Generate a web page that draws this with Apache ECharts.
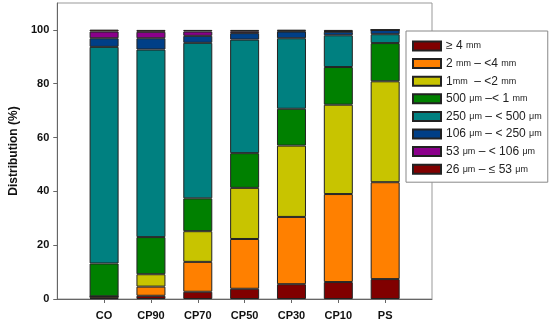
<!DOCTYPE html>
<html><head><meta charset="utf-8">
<script src="https://cdn.jsdelivr.net/npm/echarts@6/dist/echarts.min.js"></script>
<style>html,body{margin:0;padding:0;background:#fff}#c{width:550px;height:325px}</style>
</head><body><div id="c"></div>
<script>
const categories = ['CO','CP90','CP70','CP50','CP30','CP10','PS'];
const seriesNames = ['≥ 4 mm','2 mm – <4 mm','1mm  – <2 mm','500 μm –< 1 mm','250 μm – < 500 μm','106 μm – < 250 μm','53 μm – < 106 μm','26 μm – ≤ 53 μm'];
const colors = ['#800000','#FF8000','#C8C400','#008000','#008080','#003F87','#8B008B','#800000'];
const yTicks = [0,20,40,60,80,100];
const ge4mm   = [0.3, 1.2, 2.7, 3.8, 5.5, 6.3, 7.4];
const mm2_4   = [0.7, 3.4, 11.1, 18.5, 25.0, 32.7, 36.0];
const mm1_2   = [0.0, 4.6, 11.4, 19.0, 26.5, 33.2, 37.5];
const um500_1 = [12.2, 13.8, 12.2, 12.9, 13.7, 14.0, 14.2];
const um250   = [80.5, 69.7, 57.8, 42.2, 26.2, 11.8, 3.3];
const um106   = [3.2, 4.2, 2.6, 2.4, 2.5, 1.3, 1.6];
const um53    = [2.5, 2.4, 1.6, 0.7, 0.3, 0.2, 0.0];
const um26    = [0.7, 0.7, 0.6, 0.5, 0.3, 0.5, 0.0];
const allValues = [ge4mm, mm2_4, mm1_2, um500_1, um250, um106, um53, um26];

const padCats = [' '].concat(categories, ['  ']);
const chart = echarts.init(document.getElementById('c'), null, {renderer:'canvas'});
const font = 'Arial, "Liberation Sans", sans-serif';
chart.setOption({
  animation: false,
  backgroundColor: '#fff',
  grid: {left: 46, top: 3, width: 386, height: 296, show: true, borderColor: '#999', borderWidth: 1, backgroundColor: 'transparent'},
  legend: {
    orient: 'vertical', left: 406, top: 31,
    padding: [8, 6, 6, 6],
    itemWidth: 28, itemHeight: 9, itemGap: 3.6,
    icon: 'rect',
    backgroundColor: '#fff', borderColor: '#888', borderWidth: 1,
    data: seriesNames,
    formatter: n => n.replace(/(mm|μm)/g, '{u|$1}'),
    textStyle: {fontFamily: font, fontSize: 12, color: '#222', lineHeight: 14,
      rich: {u: {fontFamily: font, fontSize: 9, color: '#222'}}}
  },
  xAxis: {
    type: 'category', data: padCats, boundaryGap: false,
    axisLine: {lineStyle: {color: '#666', width: 1}},
    axisTick: {show: true, length: 4, interval: (i) => i > 0 && i < padCats.length - 1, lineStyle: {color: '#666'}},
    axisLabel: {interval: 0, margin: 11, fontFamily: font, fontWeight: 'bold', fontSize: 11, color: '#111'},
    splitLine: {show: false}
  },
  yAxis: {
    type: 'value', min: 0, max: 110,
    name: 'Distribution (%)', nameLocation: 'middle', nameGap: 30,
    nameTextStyle: {fontFamily: font, fontWeight: 'bold', fontSize: 12, color: '#111'},
    axisLine: {show: true, lineStyle: {color: '#666', width: 1}},
    axisTick: {show: true, length: 4, customValues: yTicks, lineStyle: {color: '#666'}},
    axisLabel: {customValues: yTicks, margin: 8, fontFamily: font, fontWeight: 'bold', fontSize: 11, color: '#111'},
    splitLine: {show: false}
  },
  series: seriesNames.map((name, i) => ({
    name, type: 'bar', stack: 'total', barWidth: 29,
    data: [null].concat(allValues[i], [null]),
    itemStyle: {color: colors[i], borderColor: '#222', borderWidth: 1},
    emphasis: {disabled: true}
  }))
});
</script></body></html>
